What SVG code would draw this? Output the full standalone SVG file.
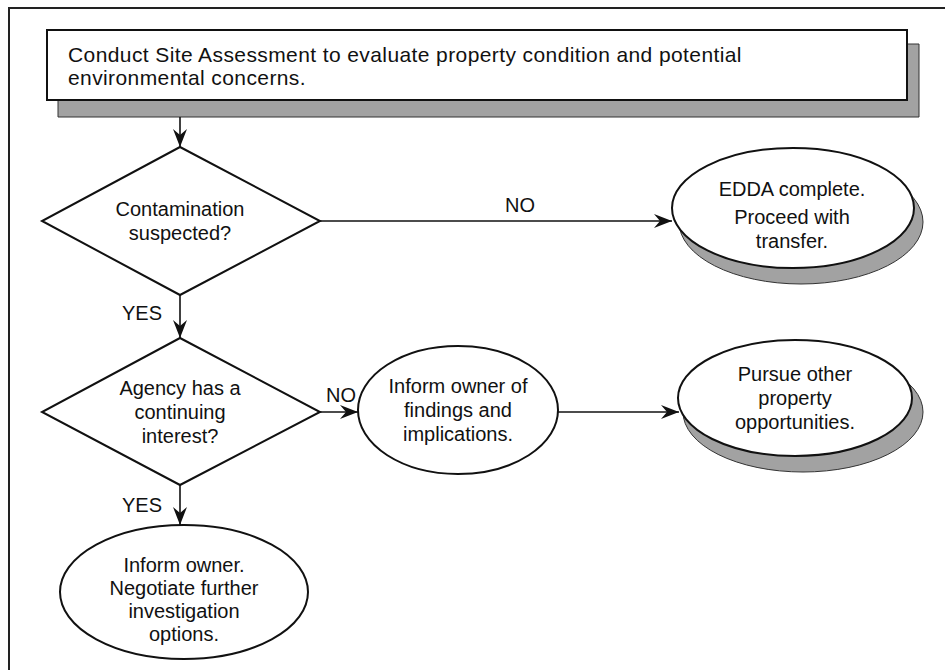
<svg xmlns="http://www.w3.org/2000/svg" width="945" height="670" viewBox="0 0 945 670">
<style>
text{font-family:"Liberation Sans",Arial,sans-serif;font-size:20px;fill:#111;text-anchor:middle}
.top{font-size:21px;letter-spacing:0.4px;text-anchor:start}
.shape{fill:#fff;stroke:#111;stroke-width:2}
.shadow{fill:#a2a2a2;stroke:#333;stroke-width:1}
.line{stroke:#111;stroke-width:1.6;fill:none}
</style>
<defs>
<marker id="arr" markerWidth="20" markerHeight="14" refX="18" refY="7" orient="auto" markerUnits="userSpaceOnUse">
<path d="M0,0 L18,7 L0,14 L6,7 z" fill="#111"/>
</marker>
</defs>
<rect width="945" height="670" fill="#fff"/>
<path d="M9,670 V8 H945" fill="none" stroke="#222" stroke-width="2"/>

<g id="assess">
<path class="shadow" d="M907,44 H919 V117 H58 V100 H907 Z"/>
<rect class="shape" x="47" y="30" width="860" height="70"/>
<text class="top" x="68" y="62">Conduct Site Assessment to evaluate property condition and potential</text>
<text class="top" x="68" y="85">environmental concerns.</text>
</g>

<g id="contamination">
<polygon class="shape" points="180,147 320,221 180,295 42,221"/>
<text x="180" y="216">Contamination</text>
<text x="180" y="240">suspected?</text>
</g>

<g id="edda">
<ellipse class="shadow" cx="801" cy="222" rx="122" ry="62"/>
<ellipse class="shape" cx="793" cy="208" rx="121" ry="60"/>
<text x="792" y="196">EDDA complete.</text>
<text x="792" y="224">Proceed with</text>
<text x="792" y="248">transfer.</text>
</g>

<g id="agency">
<polygon class="shape" points="180,338 320,412 180,485 42,412"/>
<text x="180" y="395">Agency has a</text>
<text x="180" y="419">continuing</text>
<text x="180" y="443">interest?</text>
</g>

<g id="inform-findings">
<ellipse class="shape" cx="458" cy="410" rx="100" ry="64"/>
<text x="458" y="393">Inform owner of</text>
<text x="458" y="417">findings and</text>
<text x="458" y="441">implications.</text>
</g>

<g id="pursue">
<ellipse class="shadow" cx="803" cy="412" rx="120" ry="60"/>
<ellipse class="shape" cx="795" cy="398" rx="117" ry="58"/>
<text x="795" y="381">Pursue other</text>
<text x="795" y="405">property</text>
<text x="795" y="429">opportunities.</text>
</g>

<g id="negotiate">
<ellipse class="shape" cx="184" cy="592" rx="124" ry="67"/>
<text x="184" y="572">Inform owner.</text>
<text x="184" y="595">Negotiate further</text>
<text x="184" y="618">investigation</text>
<text x="184" y="641">options.</text>
</g>

<g id="connectors">
<line class="line" x1="180" y1="117" x2="180" y2="147" marker-end="url(#arr)"/>
<line class="line" x1="320" y1="221" x2="672" y2="221" marker-end="url(#arr)"/>
<text x="520" y="212">NO</text>
<line class="line" x1="180" y1="295" x2="180" y2="338" marker-end="url(#arr)"/>
<text x="142" y="320">YES</text>
<line class="line" x1="320" y1="412" x2="358" y2="412" marker-end="url(#arr)"/>
<text x="341" y="402">NO</text>
<line class="line" x1="558" y1="412" x2="679" y2="412" marker-end="url(#arr)"/>
<line class="line" x1="180" y1="485" x2="180" y2="525" marker-end="url(#arr)"/>
<text x="142" y="512">YES</text>
</g>
</svg>
